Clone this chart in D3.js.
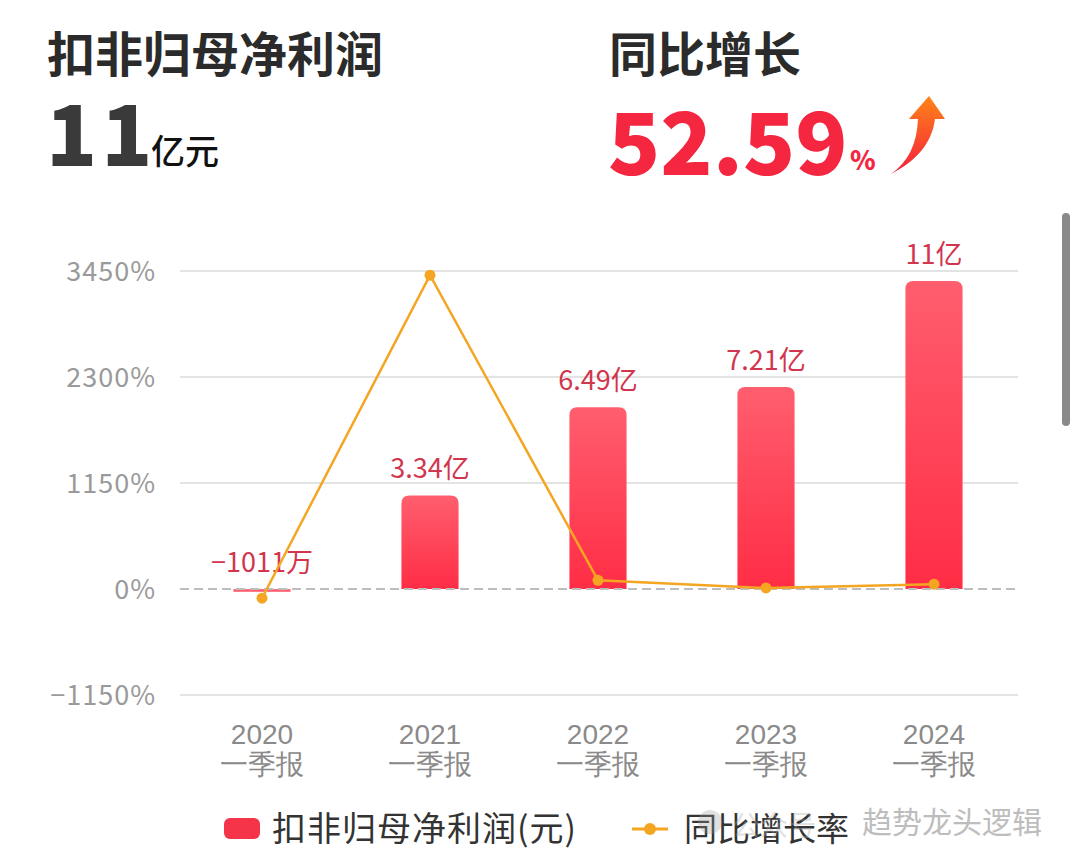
<!DOCTYPE html>
<html><head><meta charset="utf-8">
<script src="https://cdn.jsdelivr.net/npm/d3@7"></script>
<style>
html,body{margin:0;padding:0;background:#fff;}
svg{display:block;font-family:"Noto Sans CJK SC","Noto Sans",sans-serif;}
</style></head>
<body><svg id="c" width="1080" height="865"></svg>
<script>
const categories = ["2020", "2021", "2022", "2023", "2024"];
const categorySub = ["一季报", "一季报", "一季报", "一季报", "一季报"];
const profit = [-0.1011, 3.34, 6.49, 7.21, 11];        // 亿元
const profitLabels = ["−1011万", "3.34亿", "6.49亿", "7.21亿", "11亿"];
const growth = [-100, 3404, 94.3, 11.1, 52.59];          // %
const yTicks = [-1150, 0, 1150, 2300, 3450];

const FONT = "'Noto Sans CJK SC','Noto Sans',sans-serif";
const svg = d3.select("#c");
const defs = svg.append("defs");
const bg = defs.append("linearGradient").attr("id","barG").attr("x1",0).attr("y1",0).attr("x2",0).attr("y2",1);
bg.append("stop").attr("offset","0%").attr("stop-color","#ff5e6e");
bg.append("stop").attr("offset","100%").attr("stop-color","#ff2d45");
const ag = defs.append("linearGradient").attr("id","arrG").attr("x1",0).attr("y1",0).attr("x2",0).attr("y2",1);
ag.append("stop").attr("offset","0%").attr("stop-color","#ff8418");
ag.append("stop").attr("offset","100%").attr("stop-color","#f41f3c");

// Header
svg.append("text").attr("x",47).attr("y",72).attr("font-size",48).attr("font-weight",700).attr("fill","#2b2b2b").text("扣非归母净利润");
svg.append("text").attr("x",46).attr("y",166).attr("font-size",84).attr("font-weight",900).attr("fill","#3a3a3a").attr("letter-spacing",4).text("11");
svg.append("text").attr("x",151).attr("y",164).attr("font-size",34).attr("font-weight",500).attr("fill","#111").text("亿元");
svg.append("text").attr("x",609).attr("y",72).attr("font-size",48).attr("font-weight",700).attr("fill","#2b2b2b").text("同比增长");
svg.append("text").attr("x",608).attr("y",175).attr("font-size",86).attr("font-weight",900).attr("fill","#f5263f").text("52.59");
svg.append("text").attr("x",850).attr("y",170).attr("font-size",26).attr("font-weight",900).attr("fill","#f5263f").text("%");
svg.append("path").attr("fill","url(#arrG)")
  .attr("d","M891,174 C918,160 932,142 935,119 L945,119 L929,96 L909,119 L918,119 C917,144 908,162 891,174 Z");

// Scales
const x = d3.scaleBand().domain(categories).range([178,1018]).paddingInner(0.66).paddingOuter(0.33);
const yL = d3.scaleLinear().domain([-1150,3450]).range([695,271]);
const zeroY = yL(0);
const pxPer = (yL(0)-yL(1150))/1150;
// bar axis shares the zero line; 11亿 sits at the height of ~3342%
const yBar = d3.scaleLinear().domain([0,11]).range([zeroY, zeroY-3342*pxPer]);

// gridlines
svg.append("g").selectAll("line").data(yTicks.filter(d=>d!==0)).join("line")
  .attr("x1",180).attr("x2",1018).attr("y1",d=>yL(d)).attr("y2",d=>yL(d))
  .attr("stroke","#e3e3e3").attr("stroke-width",2);

// y axis
const yAxis = svg.append("g").attr("transform","translate(156,0)")
  .call(d3.axisLeft(yL).tickValues(yTicks).tickSize(0).tickPadding(0).tickFormat(d=>(d<0?"−":"")+Math.abs(d)+"%"));
yAxis.select(".domain").remove();
yAxis.selectAll("text").attr("font-size",27).attr("fill","#9a9a9a").attr("font-family",FONT).attr("letter-spacing",1).attr("dy","0.35em");

// x axis labels
const xAxis = svg.append("g").attr("transform",`translate(0,${zeroY})`)
  .call(d3.axisBottom(x).tickSize(0).tickFormat(()=>""));
xAxis.select(".domain").remove();
xAxis.selectAll(".tick").each(function(d,i){
  const g = d3.select(this);
  g.append("text").attr("y",155).attr("text-anchor","middle").attr("font-size",28).attr("fill","#8a8a8a").text(d);
  g.append("text").attr("y",185).attr("text-anchor","middle").attr("font-size",28).attr("fill","#8a8a8a").text(categorySub[i]);
});

// bars
const r = 8;
function barPath(x0,w,yTop,yBot){
  const h = yBot-yTop;
  const rr = Math.min(r,h);
  return `M${x0},${yBot} L${x0},${yTop+rr} Q${x0},${yTop} ${x0+rr},${yTop} L${x0+w-rr},${yTop} Q${x0+w},${yTop} ${x0+w},${yTop+rr} L${x0+w},${yBot} Z`;
}
svg.append("g").selectAll("path").data(profit).join("path")
  .attr("fill","url(#barG)")
  .attr("d",(d,i)=>{
    const x0 = x(categories[i]), w = x.bandwidth();
    if(d>=0) return barPath(x0,w,yBar(d),zeroY);
    return `M${x0},${zeroY} L${x0+w},${zeroY} L${x0+w},${yBar(d)} L${x0},${yBar(d)} Z`;
  })
  .attr("fill-opacity",(d)=>d<0?0.85:1);

// zero dashed line
svg.append("line").attr("x1",180).attr("x2",1018).attr("y1",zeroY).attr("y2",zeroY)
  .attr("stroke","#bdbdbd").attr("stroke-width",2).attr("stroke-dasharray","9,5");

// bar labels
svg.append("g").selectAll("text").data(profit).join("text")
  .attr("x",(d,i)=>x(categories[i])+x.bandwidth()/2)
  .attr("y",d=>Math.min(yBar(d),zeroY)-17)
  .attr("text-anchor","middle").attr("font-size",27).attr("fill","#d2354e")
  .text((d,i)=>profitLabels[i]);

// line
const line = d3.line().x((d,i)=>x(categories[i])+x.bandwidth()/2).y(d=>yL(d));
svg.append("path").datum(growth).attr("d",line).attr("fill","none").attr("stroke","#f4a622").attr("stroke-width",2.5);
svg.append("g").selectAll("circle").data(growth).join("circle")
  .attr("cx",(d,i)=>x(categories[i])+x.bandwidth()/2).attr("cy",d=>yL(d)).attr("r",5.5).attr("fill","#f4a622");

// legend
svg.append("rect").attr("x",224).attr("y",818).attr("width",36).attr("height",21).attr("rx",6).attr("fill","#f5344a");
svg.append("text").attr("x",272).attr("y",841).attr("font-size",34).attr("letter-spacing",1).attr("fill","#333").text("扣非归母净利润(元)");
svg.append("line").attr("x1",632).attr("x2",668).attr("y1",829).attr("y2",829).attr("stroke","#f4a622").attr("stroke-width",3);
svg.append("circle").attr("cx",650).attr("cy",829).attr("r",6).attr("fill","#f4a622");
svg.append("text").attr("x",684).attr("y",841).attr("font-size",33).attr("fill","#333").text("同比增长率");

// watermark
svg.append("circle").attr("cx",710).attr("cy",822).attr("r",12).attr("fill","#999").attr("opacity",0.3);
svg.append("text").attr("x",732).attr("y",836).attr("font-size",28).attr("fill","#aaa").attr("opacity",0.35).text("公众号");
svg.append("text").attr("x",862).attr("y",833).attr("font-size",30).attr("fill","#bdbdbd").text("趋势龙头逻辑");

// scrollbar
svg.append("rect").attr("x",1062).attr("y",213).attr("width",8).attr("height",213).attr("rx",4).attr("fill","#8a8a8a");
</script></body></html>
